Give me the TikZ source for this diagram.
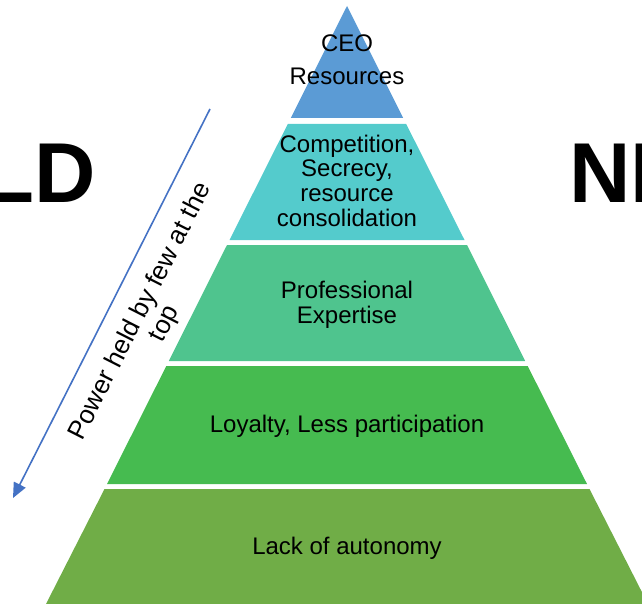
\documentclass[tikz,border=0pt]{standalone}
\usepackage{fontspec}
\setmainfont{Liberation Sans}
\usepackage{tikz}
\usetikzlibrary{arrows.meta}

\definecolor{ceoblue}{HTML}{5B9BD5}
\definecolor{secteal}{HTML}{54CBCC}
\definecolor{proteal}{HTML}{4FC48E}
\definecolor{loygreen}{HTML}{46BB50}
\definecolor{lackgreen}{HTML}{70AD47}
\definecolor{arrowblue}{HTML}{4472C4}

\begin{document}
\begin{tikzpicture}[x=1pt,y=-1pt,
    lvltext/.style={align=center,inner sep=0pt,font=\fontsize{24}{24.7}\selectfont},
    bigword/.style={anchor=base west,inner sep=0pt,font=\bfseries\fontsize{85}{85}\selectfont}]
        \useasboundingbox (0,0) rectangle (642,604);
        \clip (0,0) rectangle (642,604);
        % pyramid, top to bottom
        \fill [ceoblue] (347,6) -- (403.2,118) -- (290.8,118) -- cycle;
        \fill [secteal] (287.8,124) -- (406.2,124) -- (464.5,240) -- (229.5,240) -- cycle;
        \fill [proteal] (227,245) -- (467,245) -- (525.2,361) -- (168.8,361) -- cycle;
        \fill [loygreen] (166.3,366) -- (527.7,366) -- (587,484) -- (107,484) -- cycle;
        \fill [lackgreen] (104.5,489) -- (589.5,489) -- (648,604) -- (46,604) -- cycle;
        \node [lvltext,font=\fontsize{24}{33}\selectfont] (ceo) at (347,60) {CEO\\Resources};
        \node [lvltext] (comp) at (347,180.5) {Competition,\\Secrecy,\\resource\\consolidation};
        \node [lvltext] (prof) at (347,305) {Professional\\Expertise};
        \node [lvltext] (loyal) at (347,426) {Loyalty, Less participation};
        \node [lvltext] (lack) at (347,548) {Lack of autonomy};
        % side words
        \node [bigword] (oldword) at (-18,202) {LD};
        \node [bigword] (newword) at (569,202) {NI};
        % power arrow
        \coordinate (arrtop) at (210,109);
        \coordinate (arrtip) at (13,498);
        \draw [arrowblue, line width=1.6pt, -{Triangle[length=15pt,width=13pt]}] (arrtop) -- (arrtip);
        \node [lvltext,rotate=63.1,font=\fontsize{26}{27}\selectfont] (power) at (153,318) {Power held by few at the\\top};
    \end{tikzpicture}
\end{document}
